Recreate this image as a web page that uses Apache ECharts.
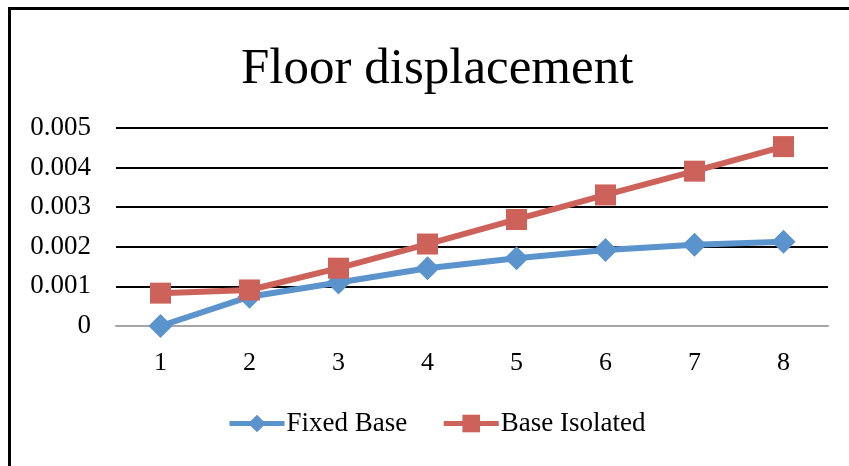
<!DOCTYPE html>
<html>
<head>
<meta charset="utf-8">
<script src="https://cdn.jsdelivr.net/npm/echarts@6/dist/echarts.min.js"></script>
<style>
  html, body { margin: 0; padding: 0; background: #fff; }
  #chart { width: 849px; height: 466px; }
</style>
</head>
<body>
<div id="chart"></div>
<script>
// Floor numbers along the x axis
const floors = ['1', '2', '3', '4', '5', '6', '7', '8'];
// Displacement per floor
const fixedBase = [0, 0.00074, 0.0011, 0.00146, 0.00171, 0.00192, 0.00205, 0.00213];
const baseIsolated = [0.00083, 0.00091, 0.00146, 0.00207, 0.00269, 0.00331, 0.00391, 0.00453];
// Value axis range
const yMin = 0, yMax = 0.005, yStep = 0.001;

const serif = '"Liberation Serif", "DejaVu Serif", serif';
const blue = '#5B93CC';
const red = '#CD625B';

const chart = echarts.init(document.getElementById('chart'));
chart.setOption({
  animation: false,
  backgroundColor: '#fff',
  graphic: [{
    type: 'rect',
    shape: { x: 9.5, y: 8.5, width: 900, height: 500 },
    style: { fill: 'none', stroke: '#000', lineWidth: 3 },
    silent: true
  }],
  title: {
    text: 'Floor displacement',
    left: 236,
    top: 39,
    textStyle: { fontFamily: serif, fontSize: 51, fontWeight: 'normal', color: '#000' }
  },
  legend: {
    data: ['Fixed Base', 'Base Isolated'],
    bottom: 24,
    left: 222,
    itemWidth: 55,
    itemHeight: 22,
    itemGap: 34,
    lineStyle: { width: 5 },
    textStyle: { fontFamily: serif, fontSize: 27, color: '#000', padding: [0, 0, 0, -3] }
  },
  grid: { left: 116, right: 21, top: 128, bottom: 140, containLabel: false },
  xAxis: {
    type: 'category',
    data: floors,
    boundaryGap: true,
    axisTick: { show: false },
    axisLine: { lineStyle: { color: '#A6A6A6', width: 2 } },
    axisLabel: { margin: 24, fontFamily: serif, fontSize: 26, color: '#000' }
  },
  yAxis: {
    type: 'value',
    min: yMin,
    max: yMax,
    interval: yStep,
    axisLine: { show: false },
    axisTick: { show: false },
    axisLabel: {
      margin: 25,
      fontFamily: serif,
      fontSize: 27,
      color: '#000',
      formatter: v => (v === 0 ? '0' : v.toFixed(3))
    },
    splitLine: { lineStyle: { color: '#000', width: 2 } }
  },
  series: [
    {
      name: 'Fixed Base',
      type: 'line',
      data: fixedBase,
      symbol: 'diamond',
      symbolSize: 24,
      lineStyle: { color: blue, width: 6 },
      itemStyle: { color: blue }
    },
    {
      name: 'Base Isolated',
      type: 'line',
      data: baseIsolated,
      symbol: 'rect',
      symbolSize: 21,
      lineStyle: { color: red, width: 6 },
      itemStyle: { color: red }
    }
  ]
});
</script>
</body>
</html>
